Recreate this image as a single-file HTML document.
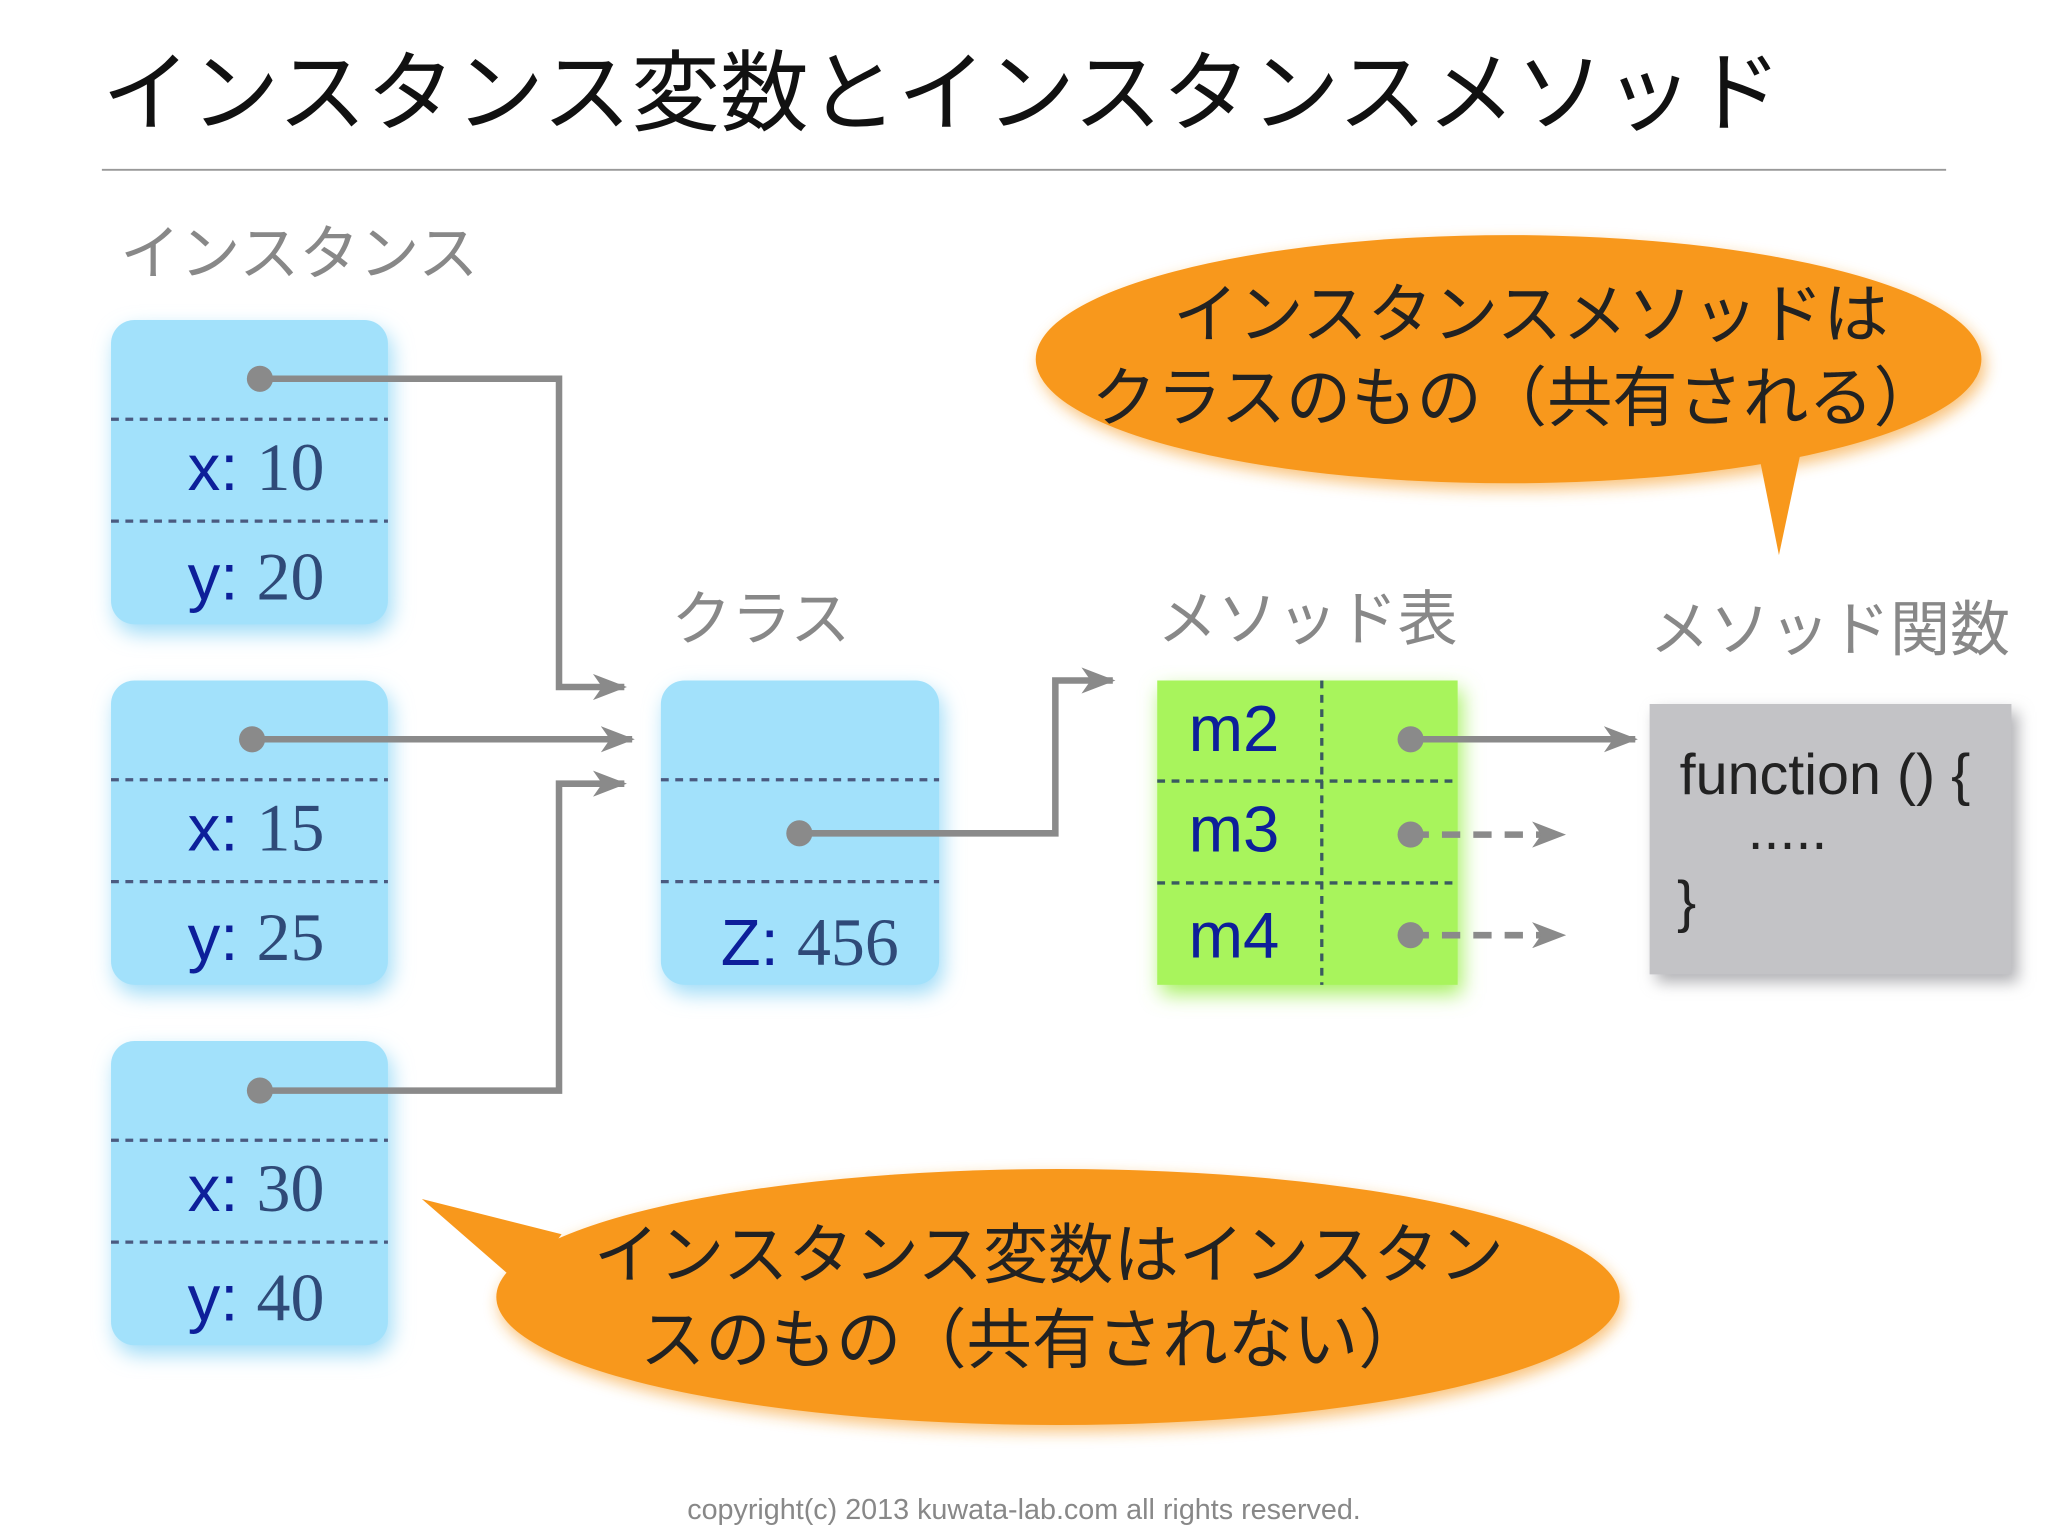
<!DOCTYPE html>
<html><head><meta charset="utf-8"><style>
html,body{margin:0;padding:0;background:#fff;}
svg{display:block;}
.jp{font-family:"Liberation Sans","Noto Sans CJK JP",sans-serif;}
.lab{font-family:"Liberation Sans","Noto Sans CJK JP",sans-serif;fill:#888;font-size:46px;}
.k{font-family:"Liberation Sans",sans-serif;fill:#0d1f9a;font-size:50px;}
.n{font-family:"Liberation Serif",serif;fill:#2f4a78;font-size:52px;}
.bt{font-family:"Liberation Sans","Noto Sans CJK JP",sans-serif;fill:#222;font-size:50px;}
</style></head><body>
<svg width="2048" height="1536" viewBox="0 0 1568 1176" xmlns="http://www.w3.org/2000/svg">
<defs>
<filter id="glow" x="-30%" y="-30%" width="160%" height="160%"><feGaussianBlur stdDeviation="8"/></filter>
<filter id="sh" x="-20%" y="-20%" width="140%" height="140%"><feGaussianBlur stdDeviation="6"/></filter>
<marker id="ar" markerWidth="12" markerHeight="12" refX="9" refY="6" orient="auto" markerUnits="userSpaceOnUse"><path d="M0,0 L28,6 L0,12 L6,6 Z" fill="#8a8a8a" transform="scale(0.9,1)"/></marker>
<marker id="ar2" viewBox="0 0 26 20" markerWidth="26" markerHeight="20" refX="24" refY="10" orient="auto" markerUnits="userSpaceOnUse"><path d="M0,0 L26,10 L0,20 L7,10 Z" fill="#8a8a8a"/></marker>
</defs>
<rect width="1568" height="1176" fill="#fff"/>
<text x="78" y="95" class="jp" font-size="68" fill="#111">インスタンス変数とインスタンスメソッド</text>
<line x1="78" y1="130" x2="1490" y2="130" stroke="#999" stroke-width="1.5"/>
<text x="92" y="210" class="lab">インスタンス</text>
<text x="514" y="490" class="lab">クラス</text>
<text x="886" y="490" class="lab">メソッド表</text>
<text x="1263" y="498" class="lab">メソッド関数</text>

<!-- instance boxes -->
<g>
<rect x="88" y="252" width="212" height="233" rx="18" fill="#9fdcf7" filter="url(#glow)"/>
<rect x="85" y="245" width="212" height="233" rx="18" fill="#a2e1fb"/>
<rect x="88" y="528" width="212" height="233" rx="18" fill="#9fdcf7" filter="url(#glow)"/>
<rect x="85" y="521" width="212" height="233" rx="18" fill="#a2e1fb"/>
<rect x="88" y="804" width="212" height="233" rx="18" fill="#9fdcf7" filter="url(#glow)"/>
<rect x="85" y="797" width="212" height="233" rx="18" fill="#a2e1fb"/>
<rect x="509" y="528" width="213" height="233" rx="18" fill="#9fdcf7" filter="url(#glow)"/>
<rect x="506" y="521" width="213" height="233" rx="18" fill="#a2e1fb"/>
</g>
<g stroke="#4a5a80" stroke-width="2.5" stroke-dasharray="6,5">
<line x1="85" y1="321" x2="297" y2="321"/><line x1="85" y1="399" x2="297" y2="399"/>
<line x1="85" y1="597" x2="297" y2="597"/><line x1="85" y1="675" x2="297" y2="675"/>
<line x1="85" y1="873" x2="297" y2="873"/><line x1="85" y1="951" x2="297" y2="951"/>
<line x1="506" y1="597" x2="719" y2="597"/><line x1="506" y1="675" x2="719" y2="675"/>
</g>
<g text-anchor="middle">
<text x="196" y="375"><tspan class="k">x: </tspan><tspan class="n">10</tspan></text>
<text x="196" y="459"><tspan class="k">y: </tspan><tspan class="n">20</tspan></text>
<text x="196" y="651"><tspan class="k">x: </tspan><tspan class="n">15</tspan></text>
<text x="196" y="735"><tspan class="k">y: </tspan><tspan class="n">25</tspan></text>
<text x="196" y="927"><tspan class="k">x: </tspan><tspan class="n">30</tspan></text>
<text x="196" y="1011"><tspan class="k">y: </tspan><tspan class="n">40</tspan></text>
<text x="620" y="739"><tspan class="k">Z: </tspan><tspan class="n">456</tspan></text>
</g>

<!-- method table -->
<rect x="889" y="528" width="230" height="233" fill="#a6f060" filter="url(#glow)"/>
<rect x="886" y="521" width="230" height="233" fill="#a8f45c"/>
<g stroke="#3a5a60" stroke-width="2.5" stroke-dasharray="6,5">
<line x1="886" y1="598" x2="1116" y2="598"/><line x1="886" y1="676" x2="1116" y2="676"/>
<line x1="1012" y1="521" x2="1012" y2="754"/>
</g>
<text x="910" y="575" class="k">m2</text>
<text x="910" y="652" class="k">m3</text>
<text x="910" y="733" class="k">m4</text>

<!-- function box -->
<rect x="1268" y="545" width="277" height="207" fill="#b0b0b4" filter="url(#sh)"/>
<rect x="1263" y="539" width="277" height="207" fill="#c3c3c6"/>
<g class="jp" font-size="44" fill="#222">
<text x="1286" y="608">function () {</text>
<text x="1338" y="650">.....</text>
<text x="1284" y="705">}</text>
</g>

<!-- connectors -->
<g stroke="#8a8a8a" stroke-width="5" fill="none">
<polyline points="199,290 428,290 428,526 478,526" marker-end="url(#ar2)"/>
<polyline points="193,566 484,566" marker-end="url(#ar2)"/>
<polyline points="199,835 428,835 428,600 478,600" marker-end="url(#ar2)"/>
<polyline points="612,638 808,638 808,521 852,521" marker-end="url(#ar2)"/>
<polyline points="1080,566 1252,566" marker-end="url(#ar2)"/>
<polyline points="1080,639 1197,639" stroke-dasharray="14,10" marker-end="url(#ar2)"/>
<polyline points="1080,716 1197,716" stroke-dasharray="14,10" marker-end="url(#ar2)"/>
</g>
<g fill="#8a8a8a">
<circle cx="199" cy="290" r="10"/><circle cx="193" cy="566" r="10"/><circle cx="199" cy="835" r="10"/>
<circle cx="612" cy="638" r="10"/><circle cx="1080" cy="566" r="10"/><circle cx="1080" cy="639" r="10"/><circle cx="1080" cy="716" r="10"/>
</g>

<!-- bubbles -->
<g filter="url(#sh)" opacity="0.6">
<ellipse cx="1158" cy="280" rx="362" ry="95" fill="#f59a20"/>
<ellipse cx="812" cy="998" rx="430" ry="98" fill="#f59a20"/>
</g>
<ellipse cx="1155" cy="275" rx="362" ry="95" fill="#f8981c"/>
<polygon points="1345,340 1380,340 1362,425" fill="#f8981c"/>
<ellipse cx="810" cy="993" rx="430" ry="98" fill="#f8981c"/>
<polygon points="323,918 430,945 400,985" fill="#f8981c"/>
<g text-anchor="middle">
<text x="1172" y="258" class="bt">インスタンスメソッドは</text>
<text x="1160" y="322" class="bt">クラスのもの（共有される）</text>
<text x="803" y="978" class="bt">インスタンス変数はインスタン</text>
<text x="790" y="1043" class="bt">スのもの（共有されない）</text>
</g>

<text x="784" y="1163" text-anchor="middle" class="jp" font-size="22" fill="#888">copyright(c) 2013 kuwata-lab.com all rights reserved.</text>
</svg>
</body></html>
